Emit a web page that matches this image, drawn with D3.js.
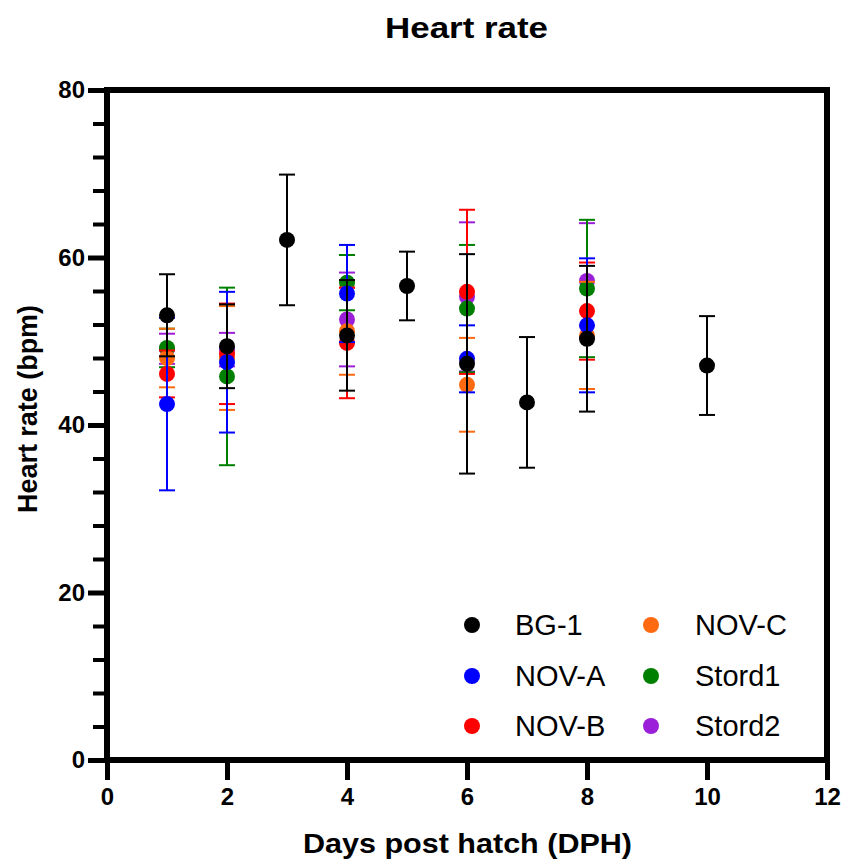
<!DOCTYPE html>
<html>
<head>
<meta charset="utf-8">
<script src="https://cdn.jsdelivr.net/npm/d3@7"></script>
<style>
  html, body { margin: 0; padding: 0; background: #fff; }
  svg { display: block; font-family: "Liberation Sans", Arial, sans-serif; }
</style>
</head>
<body>
<svg id="chart" width="846" height="861"></svg>
<script>
// ---- data ----
const seriesNames = ["BG-1", "NOV-A", "NOV-B", "NOV-C", "Stord1", "Stord2"];
const seriesColors = ["#000000", "#0000ff", "#ff0000", "#ff6a10", "#008000", "#9b1fd9"];

const bg1Days  = [1, 2, 3, 4, 5, 6, 7, 8, 10];
const bg1Mean  = [53.1, 49.4, 62.1, 50.7, 56.6, 47.3, 42.7, 50.3, 47.1];
const bg1Err   = [4.9, 5.0, 7.8, 6.6, 4.1, 13.1, 7.8, 8.7, 5.9];

const novDays  = [1, 2, 4, 6, 8];
const novAMean = [42.5, 47.5, 55.7, 47.9, 51.9];
const novAErr  = [10.3, 8.4, 5.8, 4.0, 8.0];
const novBMean = [46.1, 48.5, 49.8, 55.9, 53.6];
const novBErr  = [2.8, 6.0, 6.6, 9.8, 5.8];
const novCMean = [48.0, 48.0, 51.2, 44.8, 50.7];
const novCErr  = [3.5, 6.2, 5.2, 5.6, 6.4];
const stord1Mean = [49.2, 45.8, 57.0, 53.9, 56.3];
const stord1Err  = [2.3, 10.6, 3.3, 7.6, 8.2];
const stord2Mean = [49.1, 49.0, 52.6, 55.3, 57.2];
const stord2Err  = [1.8, 2.0, 5.6, 8.9, 6.9];

const xTicks = [0, 2, 4, 6, 8, 10, 12];
const yTicks = [0, 20, 40, 60, 80];
const yMinorTicks = d3.range(0, 81, 4).filter(v => v % 20 !== 0);

const titleText = "Heart rate";
const xLabelText = "Days post hatch (DPH)";
const yLabelText = "Heart rate (bpm)";

// ---- build series ----
function build(days, mean, err) { return days.map((d, i) => ({ x: d, y: mean[i], e: err[i] })); }
const seriesData = [
  build(bg1Days, bg1Mean, bg1Err),
  build(novDays, novAMean, novAErr),
  build(novDays, novBMean, novBErr),
  build(novDays, novCMean, novCErr),
  build(novDays, stord1Mean, stord1Err),
  build(novDays, stord2Mean, stord2Err)
];

// ---- layout ----
const svg = d3.select("#chart");
const L = 107, R = 827, T = 90, B = 760;
const x = d3.scaleLinear().domain([0, 12]).range([L, R]);
const y = d3.scaleLinear().domain([0, 80]).range([B, T]);

// frame (top and right)
svg.append("line").attr("x1", L).attr("x2", R + 3).attr("y1", T).attr("y2", T)
  .attr("stroke", "#000").attr("stroke-width", 6);
svg.append("line").attr("x1", R).attr("x2", R).attr("y1", T - 3).attr("y2", B)
  .attr("stroke", "#000").attr("stroke-width", 6);

// y minor ticks
const yMinor = svg.append("g").attr("transform", `translate(${L},0)`)
  .call(d3.axisLeft(y).tickValues(yMinorTicks).tickSize(14).tickFormat(""));
yMinor.select(".domain").remove();
yMinor.selectAll(".tick line").attr("stroke", "#000").attr("stroke-width", 4);

// y axis
const yAxis = svg.append("g").attr("transform", `translate(${L},0)`)
  .call(d3.axisLeft(y).tickValues(yTicks).tickSize(19).tickSizeOuter(0).tickPadding(3));
yAxis.select(".domain").attr("stroke", "#000").attr("stroke-width", 6).attr("d", `M0,${B + 3}V${T - 3}`);
yAxis.selectAll(".tick line").attr("stroke", "#000").attr("stroke-width", 5);
yAxis.selectAll(".tick text").attr("font-size", 24).attr("font-weight", "bold").attr("fill", "#000")
  .attr("font-family", "'Liberation Sans', Arial, sans-serif");

// x axis
const xAxis = svg.append("g").attr("transform", `translate(0,${B})`)
  .call(d3.axisBottom(x).tickValues(xTicks).tickSize(20).tickSizeOuter(0).tickPadding(8));
xAxis.select(".domain").attr("stroke", "#000").attr("stroke-width", 6).attr("d", `M${L - 3},0H${R + 3}`);
xAxis.selectAll(".tick line").attr("stroke", "#000").attr("stroke-width", 5);
xAxis.selectAll(".tick text").attr("font-size", 24).attr("font-weight", "bold").attr("fill", "#000")
  .attr("font-family", "'Liberation Sans', Arial, sans-serif");

// data: draw back-to-front (Stord2 first, BG-1 last)
const cap = 8;
for (let s = seriesData.length - 1; s >= 0; s--) {
  const g = svg.append("g").attr("class", "series");
  const col = seriesColors[s];
  const pts = seriesData[s];
  const eb = g.selectAll("g.eb").data(pts).join("g").attr("class", "eb");
  eb.append("line").attr("x1", d => x(d.x)).attr("x2", d => x(d.x))
    .attr("y1", d => y(d.y - d.e)).attr("y2", d => y(d.y + d.e))
    .attr("stroke", col).attr("stroke-width", 2);
  eb.append("line").attr("x1", d => x(d.x) - cap).attr("x2", d => x(d.x) + cap)
    .attr("y1", d => y(d.y + d.e)).attr("y2", d => y(d.y + d.e))
    .attr("stroke", col).attr("stroke-width", 2);
  eb.append("line").attr("x1", d => x(d.x) - cap).attr("x2", d => x(d.x) + cap)
    .attr("y1", d => y(d.y - d.e)).attr("y2", d => y(d.y - d.e))
    .attr("stroke", col).attr("stroke-width", 2);
  g.selectAll("circle").data(pts).join("circle")
    .attr("cx", d => x(d.x)).attr("cy", d => y(d.y)).attr("r", 8).attr("fill", col);
}

// title & labels
svg.append("text").attr("x", 466.5).attr("y", 38).attr("text-anchor", "middle")
  .attr("font-size", 30).attr("font-weight", "bold")
  .attr("textLength", 163).attr("lengthAdjust", "spacingAndGlyphs").text(titleText);
svg.append("text").attr("x", 467.5).attr("y", 853).attr("text-anchor", "middle")
  .attr("font-size", 27).attr("font-weight", "bold")
  .attr("textLength", 329).attr("lengthAdjust", "spacingAndGlyphs").text(xLabelText);
svg.append("text").attr("transform", "translate(37,409) rotate(-90)").attr("text-anchor", "middle")
  .attr("font-size", 27).attr("font-weight", "bold")
  .attr("textLength", 208).attr("lengthAdjust", "spacingAndGlyphs").text(yLabelText);

// legend
const legX = [472, 651], legTextX = [515, 695], legY = [625, 676, 726];
const leg = svg.append("g").attr("class", "legend");
seriesNames.forEach((name, i) => {
  const c = Math.floor(i / 3), r = i % 3;
  leg.append("circle").attr("cx", legX[c]).attr("cy", legY[r]).attr("r", 8).attr("fill", seriesColors[i]);
  leg.append("text").attr("x", legTextX[c]).attr("y", legY[r]).attr("dy", "0.36em")
    .attr("font-size", 29).attr("fill", "#000").text(name);
});
</script>
</body>
</html>
